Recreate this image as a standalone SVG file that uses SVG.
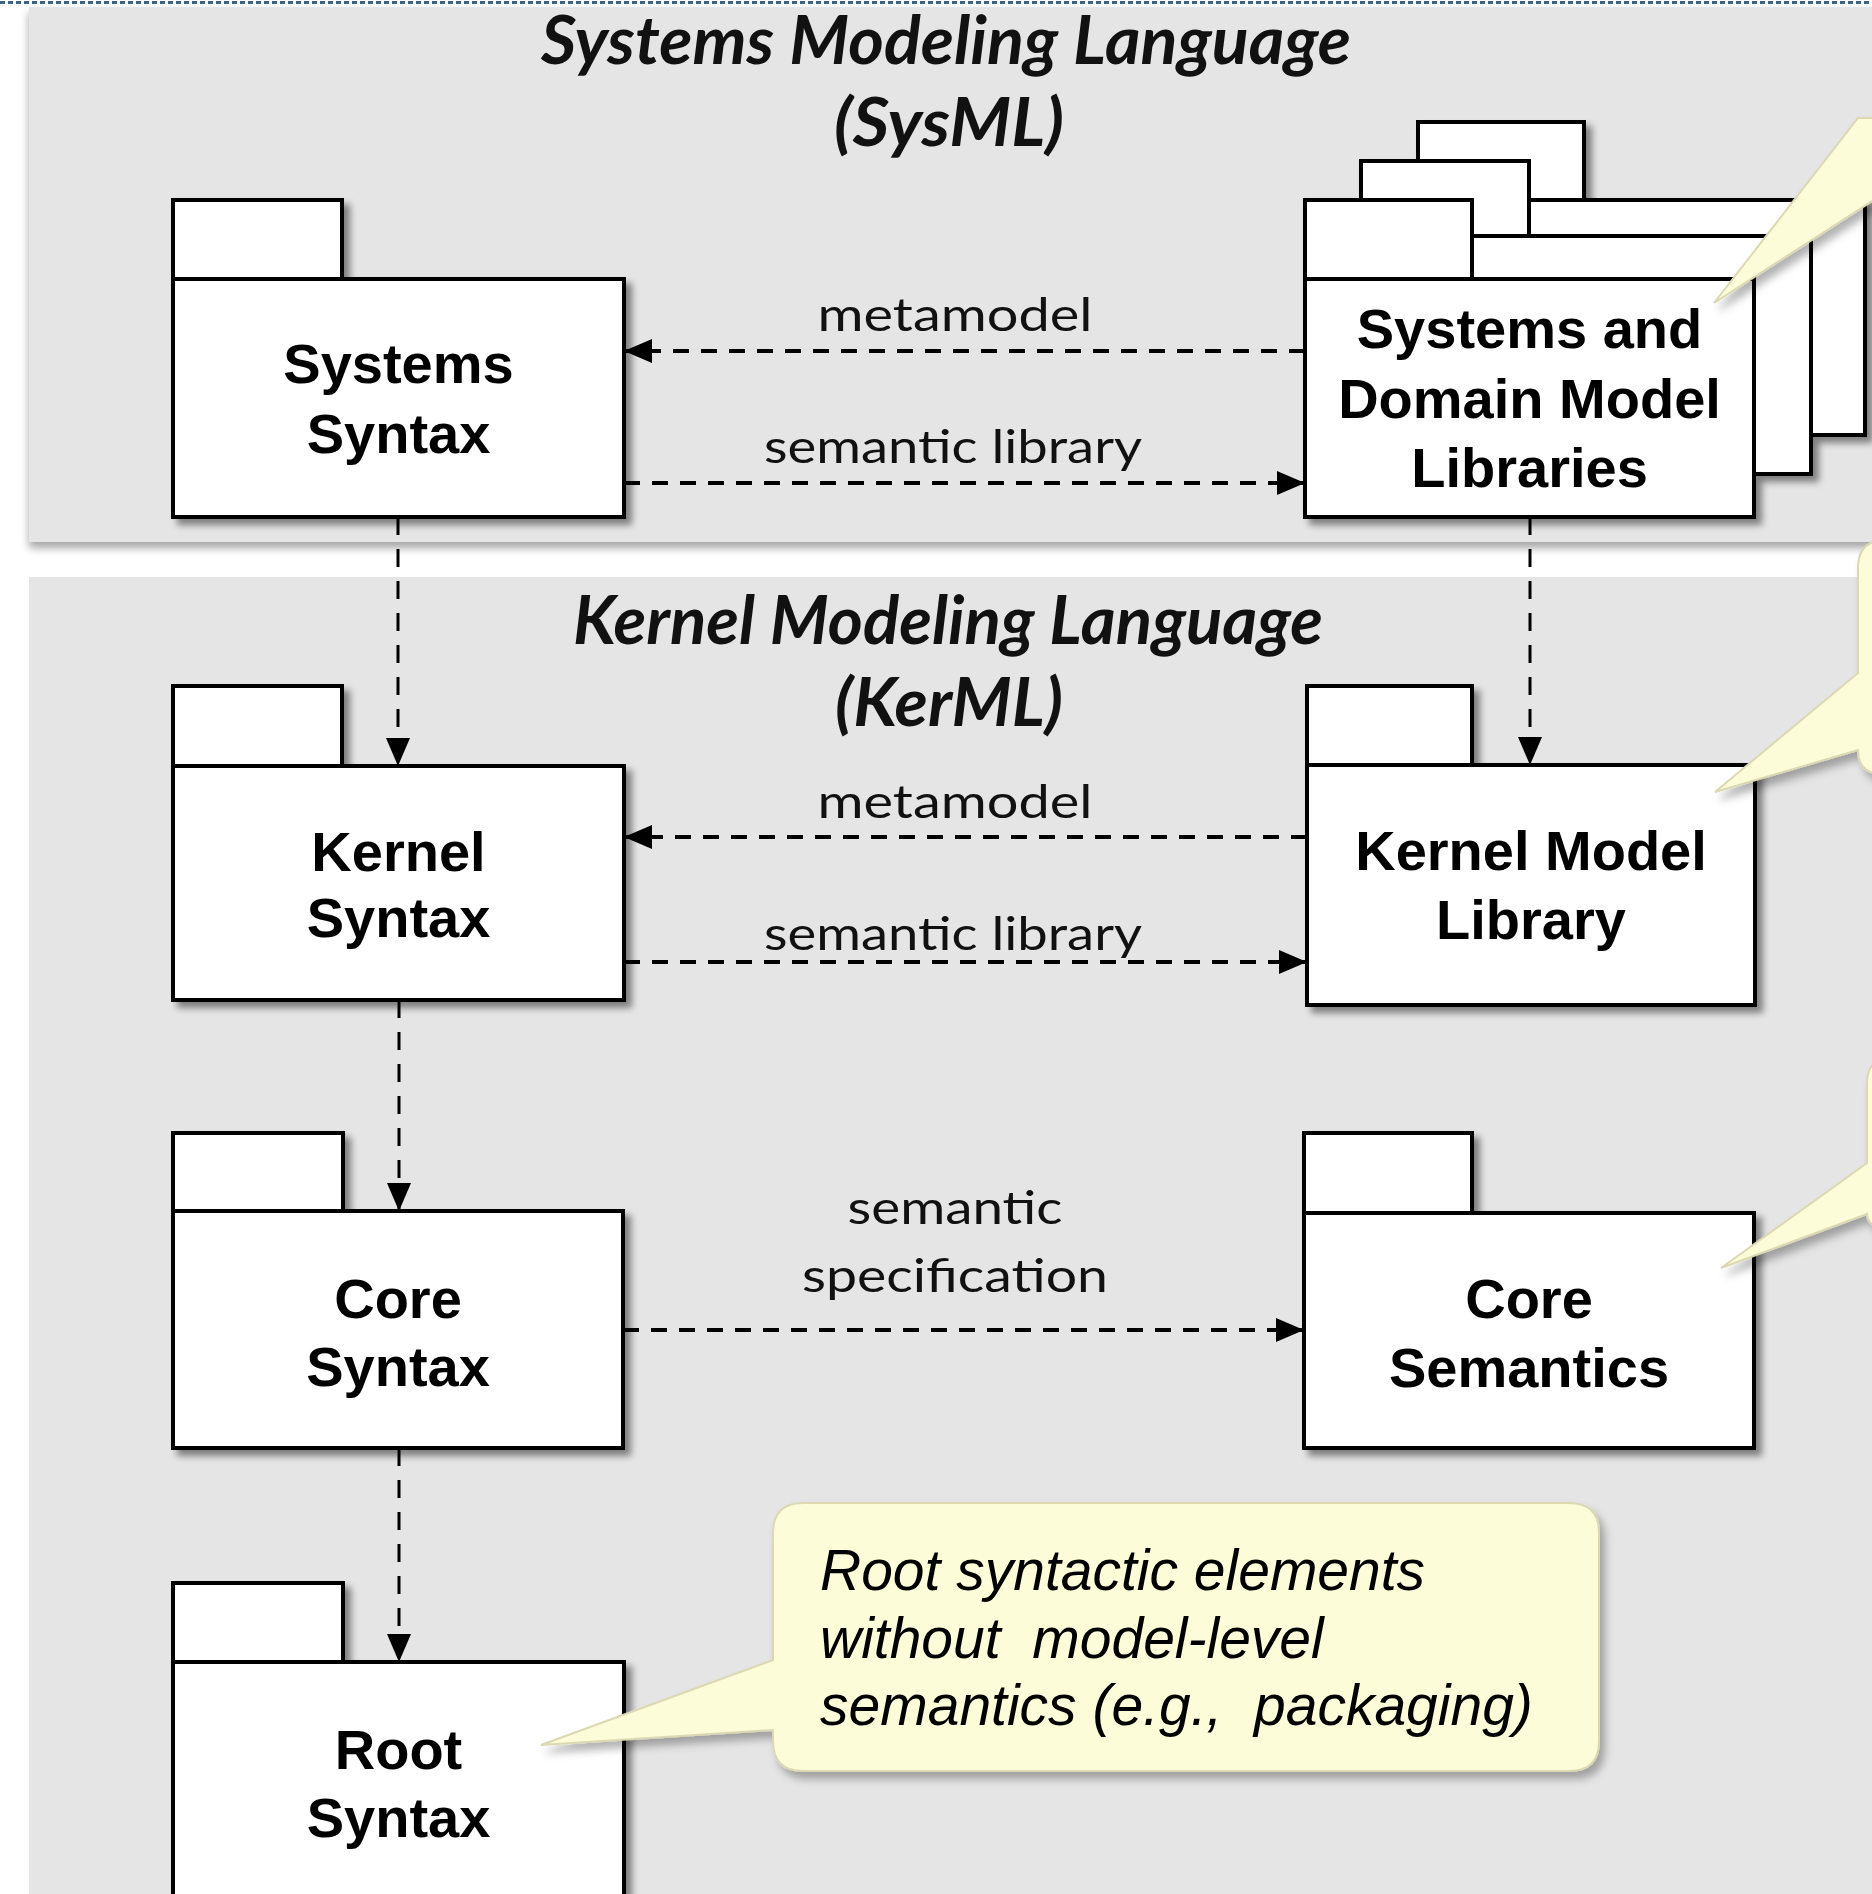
<svg xmlns="http://www.w3.org/2000/svg" width="1872" height="1894" viewBox="0 0 1872 1894">
<defs>
<style>
.pkg rect{fill:#fff;stroke:#000;stroke-width:4}
.name{font-family:"Liberation Sans",Arial,sans-serif;font-weight:bold;font-size:56px;text-anchor:middle;fill:#000}
.lbl{font-family:Lato,"Open Sans",sans-serif;font-size:47px;text-anchor:middle;fill:#111}
.title{font-family:Lato,"Open Sans",sans-serif;font-weight:bold;font-style:italic;font-size:66px;text-anchor:middle;fill:#111}
.hd{stroke:#000;stroke-width:4;stroke-dasharray:16 12;fill:none}
.vd{stroke:#000;stroke-width:3;stroke-dasharray:18 14;fill:none}
.callout{fill:#fdfcd9;stroke:#dcd8b2;stroke-width:2}
.note{font-family:"Liberation Sans",Arial,sans-serif;font-style:italic;font-size:57px;fill:#000;white-space:pre}
</style>
<filter id="sh" x="-10%" y="-10%" width="130%" height="130%">
<feDropShadow dx="6" dy="6" stdDeviation="3.5" flood-color="#000" flood-opacity="0.45"/>
</filter>
<filter id="csh" x="-10%" y="-10%" width="130%" height="130%">
<feDropShadow dx="5" dy="7" stdDeviation="4" flood-color="#000" flood-opacity="0.3"/>
</filter>
<filter id="psh" x="-5%" y="-5%" width="110%" height="120%">
<feDropShadow dx="0" dy="6" stdDeviation="4" flood-color="#000" flood-opacity="0.35"/>
</filter>
<marker id="ah" viewBox="0 0 28 24" refX="28" refY="12" markerWidth="28" markerHeight="24" markerUnits="userSpaceOnUse" orient="auto">
<path d="M0,0 L28,12 L0,24 z" fill="#000"/>
</marker>
</defs>

<rect x="0" y="0" width="1872" height="1894" fill="#fff"/>
<line x1="0" y1="2.5" x2="1872" y2="2.5" stroke="#3d6387" stroke-width="3" stroke-dasharray="5 3"/>

<g id="panels">
<rect id="sysml-panel" x="29" y="7" width="1860" height="535" fill="#e5e5e5" filter="url(#psh)"/>
<rect id="kerml-panel" x="29" y="577" width="1860" height="1330" fill="#e5e5e5"/>
<text class="title" x="946" y="64" textLength="810" lengthAdjust="spacingAndGlyphs">Systems Modeling Language</text>
<text class="title" x="949" y="146" textLength="230" lengthAdjust="spacingAndGlyphs">(SysML)</text>
<text class="title" x="948" y="644" textLength="750" lengthAdjust="spacingAndGlyphs">Kernel Modeling Language</text>
<text class="title" x="949" y="726" textLength="228" lengthAdjust="spacingAndGlyphs">(KerML)</text>
</g>

<g id="connectors">
<line class="hd" x1="1305" y1="351" x2="624" y2="351" marker-end="url(#ah)"/>
<text class="lbl" x="955" y="331" textLength="275" lengthAdjust="spacingAndGlyphs">metamodel</text>
<line class="hd" x1="624" y1="483" x2="1305" y2="483" marker-end="url(#ah)"/>
<text class="lbl" x="953" y="463" textLength="378" lengthAdjust="spacingAndGlyphs">semantic library</text>
<line class="vd" x1="398" y1="517" x2="398" y2="766" marker-end="url(#ah)"/>
<line class="vd" x1="1530" y1="517" x2="1530" y2="765" marker-end="url(#ah)"/>
<line class="hd" x1="1307" y1="837" x2="624" y2="837" marker-end="url(#ah)"/>
<text class="lbl" x="955" y="818" textLength="275" lengthAdjust="spacingAndGlyphs">metamodel</text>
<line class="hd" x1="624" y1="962" x2="1307" y2="962" marker-end="url(#ah)"/>
<text class="lbl" x="953" y="950" textLength="378" lengthAdjust="spacingAndGlyphs">semantic library</text>
<line class="vd" x1="399" y1="1000" x2="399" y2="1211" marker-end="url(#ah)"/>
<line class="hd" x1="623" y1="1330" x2="1304" y2="1330" marker-end="url(#ah)"/>
<text class="lbl" x="955" y="1224" textLength="215" lengthAdjust="spacingAndGlyphs">semantic</text>
<text class="lbl" x="955" y="1292" textLength="306" lengthAdjust="spacingAndGlyphs">specification</text>
<line class="vd" x1="399" y1="1448" x2="399" y2="1662" marker-end="url(#ah)"/>
</g>

<g id="systems-syntax" class="pkg" filter="url(#sh)">
<rect x="173" y="200" width="169" height="79"/>
<rect x="173" y="279" width="451" height="238"/>
<text class="name" x="398.5" y="383">Systems</text>
<text class="name" x="398.5" y="453">Syntax</text>
</g>

<g id="systems-domain-libraries" class="pkg" filter="url(#sh)">
<rect x="1418" y="122" width="166" height="78"/>
<rect x="1418" y="200" width="447" height="235"/>
<rect x="1361" y="161" width="168" height="75"/>
<rect x="1361" y="236" width="450" height="238"/>
<rect x="1305" y="200" width="167" height="79"/>
<rect x="1305" y="279" width="449" height="238"/>
<text class="name" x="1529.5" y="348">Systems and</text>
<text class="name" x="1529.5" y="418">Domain Model</text>
<text class="name" x="1529.5" y="487">Libraries</text>
</g>

<g id="kernel-syntax" class="pkg" filter="url(#sh)">
<rect x="173" y="686" width="169" height="80"/>
<rect x="173" y="766" width="451" height="234"/>
<text class="name" x="398.5" y="871">Kernel</text>
<text class="name" x="398.5" y="937">Syntax</text>
</g>

<g id="kernel-model-library" class="pkg" filter="url(#sh)">
<rect x="1307" y="686" width="165" height="79"/>
<rect x="1307" y="765" width="448" height="240"/>
<text class="name" x="1531" y="870">Kernel Model</text>
<text class="name" x="1531" y="939">Library</text>
</g>

<g id="core-syntax" class="pkg" filter="url(#sh)">
<rect x="173" y="1133" width="170" height="78"/>
<rect x="173" y="1211" width="450" height="237"/>
<text class="name" x="398" y="1318">Core</text>
<text class="name" x="398" y="1386">Syntax</text>
</g>

<g id="core-semantics" class="pkg" filter="url(#sh)">
<rect x="1304" y="1133" width="168" height="80"/>
<rect x="1304" y="1213" width="450" height="235"/>
<text class="name" x="1529" y="1318">Core</text>
<text class="name" x="1529" y="1387">Semantics</text>
</g>

<g id="root-syntax" class="pkg" filter="url(#sh)">
<rect x="173" y="1583" width="170" height="79"/>
<rect x="173" y="1662" width="451" height="280"/>
<text class="name" x="398.5" y="1769">Root</text>
<text class="name" x="398.5" y="1837">Syntax</text>
</g>

<g id="callout-libraries" filter="url(#csh)">
<path class="callout" d="M1714,303 L1858,118 L1880,118 L1880,196 Z"/>
</g>
<g id="callout-kernel-library" filter="url(#csh)">
<path class="callout" d="M1886,540 H1920 V775 H1886 Q1858,775 1858,750 L1715,792 L1858,673 V568 Q1858,540 1886,540 Z"/>
</g>
<g id="callout-core-semantics" filter="url(#csh)">
<path class="callout" d="M1895,1056 H1920 V1228 H1890 Q1867,1228 1867,1214 L1721,1268 L1867,1163 V1084 Q1867,1056 1895,1056 Z"/>
</g>
<g id="callout-root" filter="url(#csh)">
<path class="callout" d="M803,1503 H1569 Q1599,1503 1599,1533 V1741 Q1599,1771 1569,1771 H803 Q773,1771 773,1741 V1730 L541,1745 L773,1660 V1533 Q773,1503 803,1503 Z"/>
<text class="note" x="820" y="1590">Root syntactic elements</text>
<text class="note" x="820" y="1658">without  model-level</text>
<text class="note" x="820" y="1725">semantics (e.g.,  packaging)</text>
</g>
</svg>
